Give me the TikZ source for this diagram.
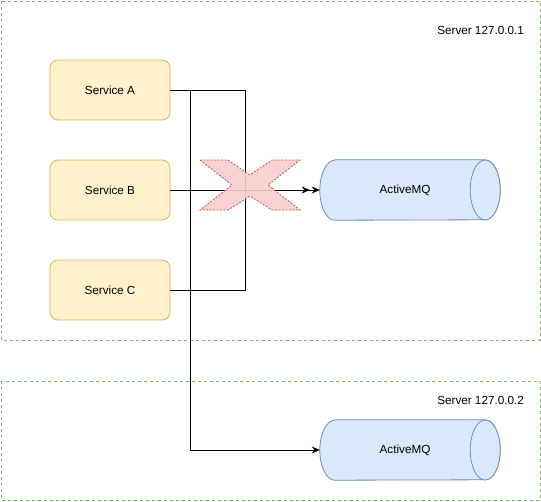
\documentclass[tikz,border=0pt]{standalone}
\usepackage{fontspec}
\setmainfont{Liberation Sans}
\usetikzlibrary{arrows.meta}
\definecolor{srvfill}{HTML}{FFF2CC}
\definecolor{srvdraw}{HTML}{D6B656}
\definecolor{mqfill}{HTML}{DAE8FC}
\definecolor{mqdraw}{HTML}{6C8EBF}
\definecolor{xfill}{HTML}{F8CECC}
\definecolor{xdraw}{HTML}{B85450}
\definecolor{grp}{HTML}{82B366}
\tikzset{
  every node/.style={font=\fontsize{11.7pt}{14pt}\selectfont},
  grpbox/.style={draw=grp, dash pattern=on 3pt off 3pt, line width=0.8pt},
  svc/.style={draw=srvdraw, fill=srvfill, rounded corners=8pt, minimum width=120pt, minimum height=60pt, inner sep=0pt, line width=0.8pt},
  mqbox/.style={minimum width=180pt, minimum height=60pt, inner sep=0pt},
  mqshape/.style={draw=mqdraw, fill=mqfill, line width=0.8pt},
  conn/.style={draw=black, line width=0.8pt},
  arr/.style={conn, -{Stealth[length=8pt,width=7pt]}},
  crossx/.style={draw=xdraw, fill=xfill, dash pattern=on 2pt off 1.5pt, line width=0.8pt, fill opacity=0.9}
}
\newcommand{\mqcyl}[1]{%
  \draw[mqshape] ([xshift=15pt]#1.north west) -- ([xshift=-15pt]#1.north east)
    arc[start angle=90, end angle=-90, x radius=15pt, y radius=30pt]
    -- ([xshift=15pt]#1.south west)
    arc[start angle=270, end angle=90, x radius=15pt, y radius=30pt] -- cycle;
  \draw[mqshape] ([xshift=-15pt]#1.east) ellipse [x radius=15pt, y radius=30pt];
}
\begin{document}
\begin{tikzpicture}[x=1pt,y=-1pt]
\useasboundingbox (0,0) rectangle (541,501);
\draw[grpbox] (1,1) rectangle (540,340);
\draw[grpbox] (1,381) rectangle (540,500);
\node[anchor=east, inner sep=0pt] (lbl1) at (524,30) {Server 127.0.0.1};
\node[anchor=east, inner sep=0pt] (lbl2) at (524,400) {Server 127.0.0.2};

\node[svc] (A) at (110,90) {Service A};
\node[svc] (B) at (110,190) {Service B};
\node[svc] (C) at (110,290) {Service C};

\node[mqbox] (mq1) at (410,190) {};
\mqcyl{mq1}
\node (mq1t) at (405,190) {ActiveMQ};
\node[mqbox] (mq2) at (410,450) {};
\mqcyl{mq2}
\node (mq2t) at (405,450) {ActiveMQ};

\coordinate (e1) at ([xshift=-10pt]mq1.west);
\draw[arr] (A.east) -- (245,90) -- (245,190) -- (e1);
\draw[conn] (C.east) -- (245,290) -- (245,190);
\draw[arr] (B.east) -- (mq1.west);
\draw[arr] (A.east) -- (190,90) -- (190,450) -- (mq2.west);

\draw[crossx] (200,160) -- (228,160) -- (250,175) -- (272,160) -- (300,160) -- (268,185) -- (300,210) -- (272,210) -- (250,196) -- (228,210) -- (200,210) -- (232,185) -- cycle;
\end{tikzpicture}
\end{document}
